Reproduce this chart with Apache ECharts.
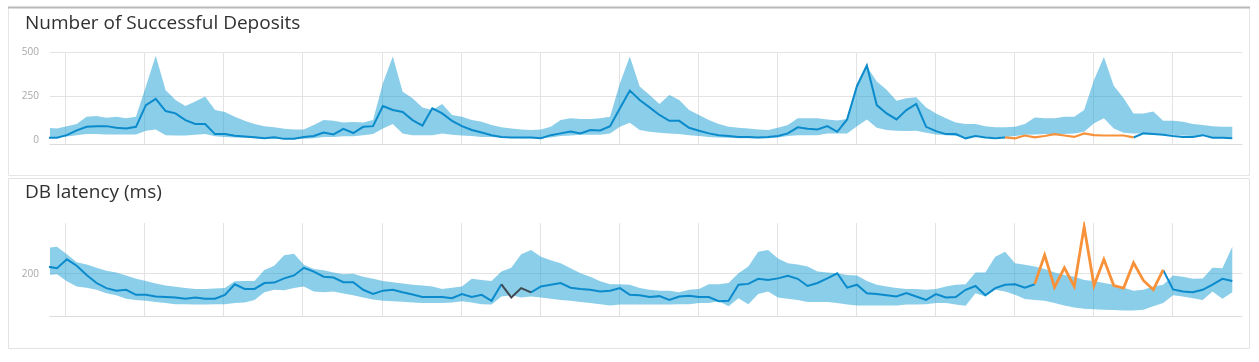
<!DOCTYPE html>
<html>
<head>
<meta charset="utf-8">
<script src="https://cdn.jsdelivr.net/npm/echarts@6/dist/echarts.min.js"></script>
<style>
  html, body { margin: 0; padding: 0; background: #ffffff; }
  #chart { width: 1259px; height: 362px; }
</style>
</head>
<body>
<div id="chart"></div>
<script>
// ---------- data ----------
const titles = ['Number of Successful Deposits', 'DB latency (ms)'];

// sample times (hours from first midnight), one sample every 3 hours
const FIRST_HOUR = -5.65;
const STEP_HOURS = 3;
// day boundaries (hours) drawn as vertical grid lines
const dayMarks = [0, 24, 48, 72, 96, 120, 144, 168, 192, 216, 240, 264, 288, 312, 336];

// y tick labels
const depositTicks = [0, 250, 500];
const latencyTicks = [200];

// Successful deposits
const depositMid = [
  15, 15, 30, 57, 77, 81, 81, 72, 68, 77,
  200, 235, 166, 153, 115, 93, 93, 36, 36, 27,
  22, 18, 12, 18, 9, 10, 20, 25, 45, 34,
  66, 42, 77, 81, 195, 172, 161, 115, 84, 182,
  153, 111, 81, 59, 45, 30, 20, 17, 17, 17,
  13, 30, 40, 51, 40, 59, 57, 81, 182, 282,
  229, 187, 144, 111, 111, 72, 55, 40, 30, 25,
  20, 20, 17, 19, 25, 40, 74, 66, 62, 81,
  49, 119, 308, 424, 200, 153, 119, 172, 206, 77,
  53, 36, 36, 12, 25, 17, 13, 17, null, null,
  null, null, null, null, null, null, null, null, null, null,
  17, 40, 36, 32, 25, 20, 20, 30, 15, 15, 12
];
const depositUpper = [
  72, 68, 81, 93, 134, 138, 129, 134, 125, 134,
  305, 479, 284, 229, 195, 220, 248, 172, 161, 134,
  112, 93, 81, 74, 66, 62, 62, 87, 115, 111,
  101, 104, 101, 115, 324, 475, 276, 239, 186, 172,
  206, 144, 134, 115, 106, 87, 74, 68, 62, 59,
  62, 77, 115, 125, 121, 121, 125, 134, 324, 475,
  305, 257, 206, 257, 229, 172, 144, 115, 93, 77,
  72, 68, 62, 59, 72, 87, 125, 125, 125, 118,
  113, 121, 316, 420, 333, 286, 225, 239, 244, 187,
  153, 125, 102, 93, 93, 81, 74, 74, 77, 93,
  130, 125, 125, 134, 134, 172, 342, 472, 309, 239,
  153, 153, 163, 111, 111, 106, 93, 87, 81, 77, 77
];
const depositLower = [
  20, 20, 23, 30, 36, 36, 34, 34, 34, 34,
  55, 62, 30, 28, 28, 32, 36, 24, 20, 17,
  15, 13, 9, 9, 7, 7, 9, 13, 20, 20,
  24, 24, 30, 36, 68, 93, 40, 30, 30, 30,
  40, 32, 28, 25, 20, 19, 17, 15, 13, 12,
  12, 17, 25, 28, 32, 32, 32, 40, 77, 100,
  59, 49, 44, 40, 36, 30, 25, 20, 17, 15,
  13, 12, 12, 12, 17, 25, 30, 30, 30, 40,
  40, 40, 81, 119, 72, 59, 55, 53, 55, 44,
  34, 30, 25, 20, 20, 20, 20, 20, 25, 32,
  34, 36, 36, 36, 40, 49, 97, 125, 68, 44,
  40, 40, 40, 36, 32, 28, 25, 25, 20, 17, 17
];
const depositAnomalyStart = 97;
const depositAnomaly = [17, 12, 28, 17, 25, 36, 28, 20, 40, 30, 28, 28, 28, 17];

// DB latency
const latencyMid = [
  217, 213, 234, 219, 197, 178, 166, 160, 162, 150,
  150, 146, 145, 144, 141, 144, 141, 141, 150, 175,
  164, 164, 178, 179, 189, 196, 214, 205, 193, 191,
  180, 180, 162, 152, 160, 162, 156, 151, 145, 145,
  145, 142, 152, 145, 150, 136, 175, null, null, 156,
  170, 174, 178, 167, 164, 162, 158, 160, 166, 150,
  149, 145, 147, 138, 146, 148, 145, 145, 135, 136,
  174, 176, 188, 185, 189, 195, 188, 171, 178, 189,
  201, 167, 174, 154, 152, 149, 146, 154, 146, 138,
  152, 144, 145, 162, 171, 149, 166, 174, 175, 167,
  175, null, null, null, null, null, null, null, null, null,
  null, null, null, 209, 163, 158, 156, 162, 174, 188, 183
];
const latencyUpper = [
  261, 264, 246, 227, 222, 214, 207, 203, 196, 188,
  183, 177, 172, 169, 166, 164, 164, 165, 166, 182,
  183, 183, 209, 219, 244, 247, 221, 211, 208, 203,
  199, 200, 193, 188, 183, 180, 177, 174, 172, 170,
  164, 167, 170, 188, 185, 183, 205, 214, 246, 256,
  240, 232, 225, 213, 201, 193, 182, 175, 175, 174,
  166, 162, 160, 160, 156, 162, 164, 175, 175, 178,
  201, 217, 252, 256, 236, 225, 222, 217, 205, 203,
  201, 197, 196, 183, 174, 170, 166, 164, 164, 162,
  164, 170, 174, 175, 203, 203, 240, 252, 225, 221,
  217, 211, 203, 197, 193, 185, 183, 178, 174, 167,
  160, 162, 170, 174, 196, 193, 188, 189, 214, 213, 264
];
const latencyLower = [
  197, 199, 182, 170, 167, 162, 154, 149, 141, 138,
  136, 133, 131, 128, 128, 127, 127, 128, 128, 131,
  132, 138, 156, 162, 161, 166, 170, 158, 156, 158,
  153, 149, 144, 139, 136, 135, 134, 132, 131, 131,
  131, 132, 135, 132, 128, 127, 146, 149, 144, 146,
  144, 141, 138, 136, 133, 131, 128, 125, 127, 127,
  127, 127, 127, 127, 128, 128, 131, 131, 135, 123,
  142, 128, 152, 158, 144, 141, 138, 133, 133, 133,
  131, 127, 125, 125, 125, 125, 125, 127, 127, 128,
  131, 131, 127, 124, 154, 146, 162, 158, 150, 140,
  138, 136, 131, 125, 120, 117, 116, 115, 114, 113,
  113, 115, 123, 131, 149, 146, 142, 138, 158, 141, 156
];
const latencyAnomalyStart = 100;
const latencyAnomaly = [176, 244, 168, 214, 170, 311, 172, 234, 172, 166, 226, 184, 162, 209];
const latencyGapStart = 46;
const latencyGap = [175, 144, 166, 156];

// ---------- build ----------
const hours = depositMid.map((_, i) => +(FIRST_HOUR + STEP_HOURS * i).toFixed(2));
const pair = (vals, start = 0) => vals.map((v, i) => [hours[start + i], v]);

const BAND = 'rgba(22,158,214,0.50)';
const LINE = '#0b8bcb';
const ORANGE = '#f7913a';
const DARK = '#3f4850';
const GRIDC = '#e3e3e3';
const FONT = '"Open Sans", "DejaVu Sans", sans-serif';

function gridLines(ticks) {
  return {
    silent: true, symbol: ['none', 'none'], z: 1, animation: false,
    label: { show: false },
    lineStyle: { color: GRIDC, width: 1, type: 'solid' },
    emphasis: { disabled: true },
    data: [
      ...dayMarks.map(h => ({ xAxis: h })),
      ...ticks.filter(t => t !== 0).map(t => ({ yAxis: t }))
    ]
  };
}

// band between lower and upper, drawn as one polygon through the axes' scales
function bandSeries(idx, lower, upper) {
  return {
    type: 'custom', xAxisIndex: idx, yAxisIndex: idx, silent: true, z: 2,
    data: [[hours[10], lower[10]]],
    renderItem: (params, api) => {
      const pts = [];
      for (let i = 0; i < upper.length; i++) pts.push(api.coord([hours[i], upper[i]]));
      for (let i = lower.length - 1; i >= 0; i--) pts.push(api.coord([hours[i], lower[i]]));
      const cs = params.coordSys;
      return {
        type: 'group',
        clipPath: { type: 'rect', shape: { x: cs.x, y: cs.y, width: cs.width, height: cs.height } },
        children: [{ type: 'polygon', shape: { points: pts }, style: { fill: BAND } }]
      };
    }
  };
}

function lineSeries(idx, data, start, color, width, ticks) {
  const s = {
    type: 'line', xAxisIndex: idx, yAxisIndex: idx,
    data: pair(data, start), symbol: 'none', connectNulls: false,
    lineStyle: { color: color, width: width, join: 'miter' }, silent: true, z: 3
  };
  if (ticks) s.markLine = gridLines(ticks);
  return s;
}

const xAxisBase = {
  type: 'value', min: -4.77, max: 357.3,
  axisLine: { show: true, onZero: false, lineStyle: { color: '#dcdcdc', width: 1 } },
  axisTick: { show: false }, axisLabel: { show: false }, splitLine: { show: false }
};
function yAxisFor(idx, min, max, ticks) {
  return {
    type: 'value', gridIndex: idx, min: min, max: max, interval: 10,
    axisLine: { show: false }, axisTick: { show: false }, splitLine: { show: false },
    axisLabel: {
      color: '#a8a8a8', fontSize: 10, fontFamily: FONT, margin: 11,
      formatter: v => (ticks.includes(v) ? String(v) : '')
    }
  };
}

const option = {
  animation: false,
  backgroundColor: '#ffffff',
  title: [
    { text: titles[0], left: 20, top: 9,
      textStyle: { fontSize: 19, fontWeight: 'normal', color: '#303030', fontFamily: FONT } },
    { text: titles[1], left: 20, top: 178,
      textStyle: { fontSize: 19, fontWeight: 'normal', color: '#303030', fontFamily: FONT } }
  ],
  graphic: [
    { type: 'rect', silent: true, z: -10,
      shape: { x: 8.5, y: 7.5, width: 1241, height: 168 },
      style: { fill: 'none', stroke: '#e6e6e6', lineWidth: 1 } },
    { type: 'line', silent: true, z: -9,
      shape: { x1: 8, y1: 7.5, x2: 1250, y2: 7.5 },
      style: { stroke: '#b9b9b9', lineWidth: 2 } },
    { type: 'rect', silent: true, z: -10,
      shape: { x: 8.5, y: 178.5, width: 1241, height: 170 },
      style: { fill: 'none', stroke: '#e3e3e3', lineWidth: 1 } }
  ],
  grid: [
    { left: 50, right: 17, top: 52, height: 92 },
    { left: 50, right: 17, top: 223, height: 93 }
  ],
  xAxis: [
    Object.assign({ gridIndex: 0 }, xAxisBase),
    Object.assign({ gridIndex: 1 }, xAxisBase)
  ],
  yAxis: [
    yAxisFor(0, -20, 500, depositTicks),
    yAxisFor(1, 100, 320, latencyTicks)
  ],
  series: [
    bandSeries(0, depositLower, depositUpper),
    lineSeries(0, depositMid, 0, LINE, 2, depositTicks),
    lineSeries(0, depositAnomaly, depositAnomalyStart, ORANGE, 2.2),
    bandSeries(1, latencyLower, latencyUpper),
    lineSeries(1, latencyMid, 0, LINE, 2, latencyTicks),
    lineSeries(1, latencyGap, latencyGapStart, DARK, 2),
    lineSeries(1, latencyAnomaly, latencyAnomalyStart, ORANGE, 2.8)
  ]
};

const chart = echarts.init(document.getElementById('chart'), null, { renderer: 'canvas' });
chart.setOption(option);
</script>
</body>
</html>
